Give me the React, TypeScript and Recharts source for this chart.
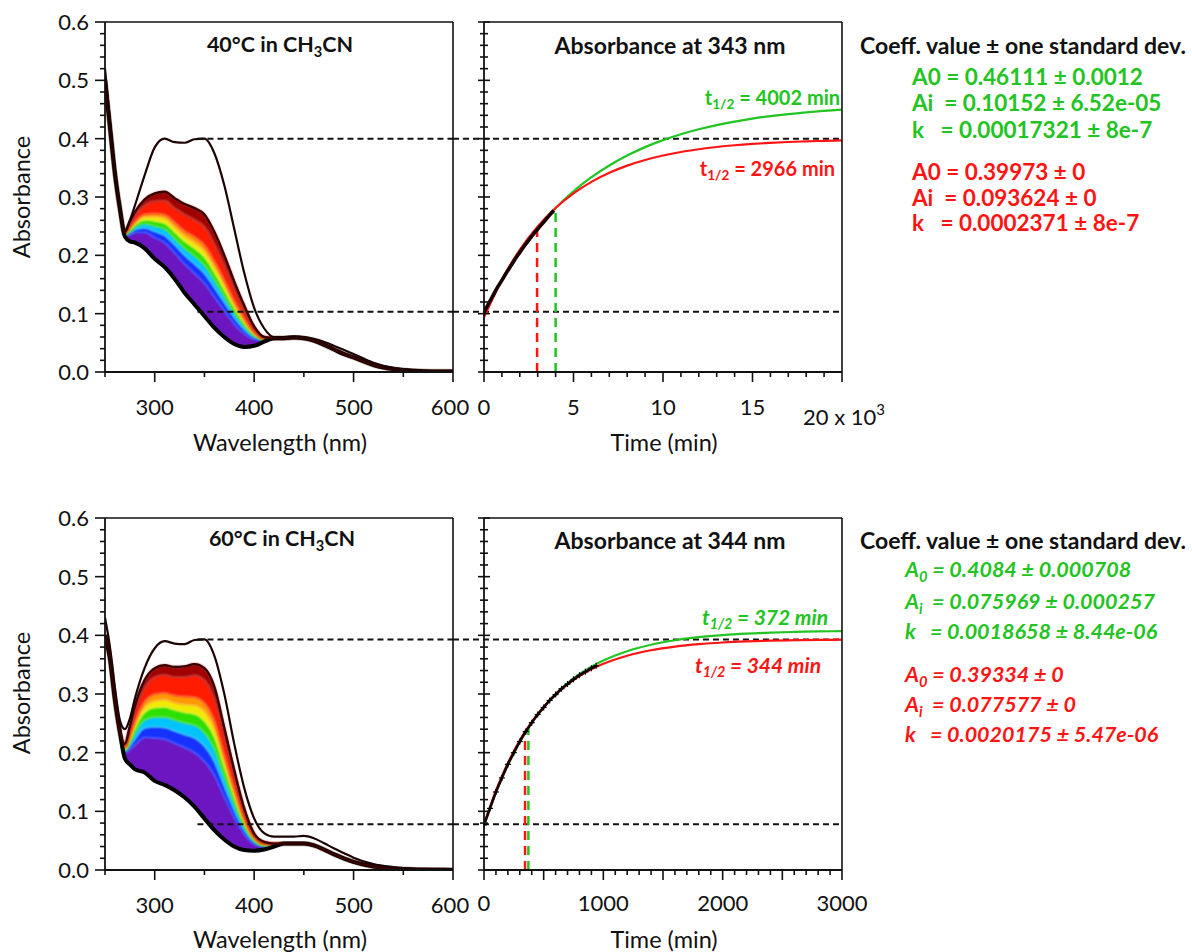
import React from 'react';
import { ComposedChart, Area, Line, XAxis, YAxis, ReferenceLine } from 'recharts';

const FONT = 'Lato, "Open Sans", sans-serif';
const GREEN = '#21c421';
const RED = '#ff1414';
const INK = '#111';

// wavelength grid (nm): steep head, the band where spectra spread, common tail
const HEAD_WL = [250, 255, 260, 265];
const BAND_WL = [270, 275, 280, 290, 300, 310, 320, 330, 340, 350, 360, 370, 380, 390, 400, 410, 420, 430];
const TAIL_WL = [440, 450, 460, 470, 480, 490, 500, 520, 540, 560, 580, 600];

// 40 °C spectra (absorbance)
const S40_HEAD = [0.5, 0.42, 0.34, 0.28];
const S40_TAIL = [0.059, 0.058, 0.054, 0.047, 0.039, 0.031, 0.025, 0.012, 0.005, 0.002, 0.001, 0.001];
const S40_BOTTOM = [0.232, 0.224, 0.222, 0.212, 0.194, 0.18, 0.16, 0.136, 0.116, 0.096, 0.076, 0.06, 0.048, 0.043, 0.045, 0.052, 0.058, 0.058];
const S40_VIOLET = [0.235, 0.235, 0.239, 0.239, 0.23, 0.221, 0.204, 0.185, 0.169, 0.152, 0.128, 0.105, 0.082, 0.066, 0.056, 0.055, 0.058, 0.058];
const S40_BLUE = [0.235, 0.238, 0.244, 0.247, 0.241, 0.234, 0.218, 0.2, 0.185, 0.169, 0.145, 0.119, 0.093, 0.073, 0.059, 0.055, 0.058, 0.058];
const S40_CYAN = [0.236, 0.241, 0.248, 0.254, 0.25, 0.245, 0.229, 0.212, 0.199, 0.183, 0.158, 0.13, 0.102, 0.079, 0.062, 0.056, 0.058, 0.058];
const S40_GREEN = [0.237, 0.244, 0.252, 0.261, 0.259, 0.255, 0.24, 0.224, 0.212, 0.197, 0.171, 0.141, 0.11, 0.084, 0.064, 0.057, 0.058, 0.058];
const S40_YELLOW = [0.237, 0.246, 0.255, 0.266, 0.266, 0.263, 0.248, 0.233, 0.222, 0.207, 0.181, 0.15, 0.116, 0.088, 0.066, 0.057, 0.058, 0.058];
const S40_ORANGE = [0.238, 0.248, 0.258, 0.271, 0.272, 0.27, 0.257, 0.242, 0.232, 0.218, 0.191, 0.158, 0.123, 0.093, 0.068, 0.058, 0.058, 0.058];
const S40_RED = [0.239, 0.254, 0.268, 0.286, 0.293, 0.294, 0.281, 0.27, 0.261, 0.249, 0.22, 0.183, 0.142, 0.105, 0.074, 0.059, 0.058, 0.058];
const S40_TOP = [0.24, 0.258, 0.274, 0.296, 0.306, 0.309, 0.298, 0.288, 0.281, 0.27, 0.24, 0.2, 0.155, 0.114, 0.078, 0.06, 0.058, 0.058];
const S40_FINAL = [0.52, 0.43, 0.345, 0.283, 0.243, 0.26, 0.285, 0.338, 0.385, 0.4, 0.394, 0.393, 0.399, 0.4, 0.375, 0.32, 0.245, 0.17, 0.11, 0.075, 0.06, 0.06, 0.061, 0.06, 0.057, 0.052, 0.045, 0.038, 0.031, 0.016, 0.007, 0.003, 0.001, 0.001];

// 60 °C spectra
const S60_HEAD = [0.4, 0.36, 0.29, 0.235];
const S60_TAIL = [0.045, 0.045, 0.042, 0.035, 0.027, 0.02, 0.014, 0.006, 0.002, 0.001, 0.0005, 0];
const S60_BOTTOM = [0.19, 0.18, 0.172, 0.166, 0.152, 0.145, 0.136, 0.124, 0.108, 0.088, 0.068, 0.052, 0.04, 0.034, 0.033, 0.035, 0.04, 0.045];
const S60_VIOLET = [0.2, 0.205, 0.213, 0.226, 0.225, 0.223, 0.216, 0.209, 0.2, 0.185, 0.161, 0.124, 0.089, 0.061, 0.044, 0.04, 0.042, 0.045];
const S60_BLUE = [0.202, 0.211, 0.223, 0.242, 0.244, 0.243, 0.237, 0.231, 0.225, 0.211, 0.185, 0.143, 0.102, 0.068, 0.047, 0.041, 0.042, 0.045];
const S60_CYAN = [0.204, 0.217, 0.233, 0.256, 0.261, 0.261, 0.256, 0.251, 0.247, 0.234, 0.207, 0.16, 0.114, 0.074, 0.05, 0.042, 0.043, 0.045];
const S60_GREEN = [0.206, 0.222, 0.242, 0.269, 0.277, 0.278, 0.273, 0.269, 0.266, 0.254, 0.227, 0.176, 0.125, 0.08, 0.052, 0.043, 0.043, 0.045];
const S60_YELLOW = [0.208, 0.226, 0.248, 0.278, 0.288, 0.29, 0.285, 0.282, 0.281, 0.27, 0.241, 0.187, 0.132, 0.084, 0.054, 0.044, 0.044, 0.045];
const S60_ORANGE = [0.209, 0.23, 0.254, 0.288, 0.3, 0.302, 0.298, 0.296, 0.295, 0.285, 0.256, 0.198, 0.14, 0.089, 0.055, 0.045, 0.044, 0.045];
const S60_RED = [0.213, 0.24, 0.27, 0.311, 0.329, 0.333, 0.329, 0.329, 0.332, 0.324, 0.292, 0.227, 0.16, 0.099, 0.06, 0.047, 0.045, 0.045];
const S60_TOP = [0.215, 0.245, 0.279, 0.324, 0.344, 0.349, 0.346, 0.347, 0.351, 0.344, 0.312, 0.242, 0.17, 0.105, 0.062, 0.048, 0.045, 0.045];
const S60_FINAL = [0.43, 0.38, 0.31, 0.255, 0.24, 0.258, 0.292, 0.345, 0.378, 0.39, 0.386, 0.385, 0.392, 0.393, 0.365, 0.3, 0.215, 0.14, 0.088, 0.063, 0.057, 0.057, 0.057, 0.058, 0.054, 0.046, 0.037, 0.029, 0.021, 0.01, 0.005, 0.002, 0.001, 0.001];

// colour of each zone, bottom (early) to top (late)
const ZONE_COLORS = ['#6c12c2', '#1533ff', '#00c4ff', '#2ee000', '#f0ea00', '#ff9800', '#ff1a00', '#a00000'];

// kinetics at 343 nm, 40 °C
const T40_FIT = [0, 1000, 2000, 3000, 4000, 5000, 6000, 7000, 8000, 9000, 10000, 11000, 12000, 13000, 14000, 15000, 16000, 17000, 18000, 19000, 20000];
const K40_GREEN = [0.1015, 0.1587, 0.2068, 0.2472, 0.2812, 0.3098, 0.3339, 0.3541, 0.3711, 0.3855, 0.3975, 0.4076, 0.4161, 0.4233, 0.4293, 0.4344, 0.4386, 0.4422, 0.4452, 0.4477, 0.4499];
const K40_RED = [0.0936, 0.1582, 0.2092, 0.2494, 0.2812, 0.3062, 0.3259, 0.3415, 0.3538, 0.3635, 0.3711, 0.3772, 0.3819, 0.3857, 0.3887, 0.391, 0.3928, 0.3943, 0.3954, 0.3963, 0.3971];
const T40_DATA = [0, 250, 500, 750, 1000, 1250, 1500, 1750, 2000, 2250, 2500, 2750, 3000, 3250, 3500, 3750, 3900];
const K40_DATA = [0.102, 0.117, 0.131, 0.145, 0.157, 0.17, 0.182, 0.194, 0.205, 0.216, 0.226, 0.236, 0.245, 0.254, 0.263, 0.272, 0.277];

// kinetics at 344 nm, 60 °C
const T60_FIT = [0, 100, 200, 300, 400, 500, 600, 700, 800, 900, 1000, 1200, 1400, 1600, 1800, 2000, 2200, 2400, 2600, 2800, 3000];
const K60_GREEN = [0.076, 0.1326, 0.1795, 0.2185, 0.2508, 0.2776, 0.2999, 0.3184, 0.3337, 0.3464, 0.357, 0.373, 0.384, 0.3916, 0.3968, 0.4004, 0.4029, 0.4046, 0.4058, 0.4066, 0.4072];
const K60_RED = [0.0776, 0.1353, 0.1824, 0.221, 0.2525, 0.2782, 0.2992, 0.3164, 0.3305, 0.342, 0.3514, 0.3653, 0.3746, 0.3808, 0.385, 0.3878, 0.3896, 0.3909, 0.3917, 0.3922, 0.3926];
const T60_DATA = [0, 50, 100, 150, 200, 250, 300, 350, 400, 450, 500, 550, 600, 650, 700, 750, 800, 850, 900, 940];
const K60_DATA = [0.077, 0.105, 0.133, 0.157, 0.18, 0.2, 0.219, 0.236, 0.251, 0.265, 0.277, 0.289, 0.299, 0.309, 0.317, 0.325, 0.332, 0.338, 0.344, 0.348];

// axis ticks
const WL_TICKS = [250, 300, 350, 400, 450, 500, 550, 600];
const ABS_TICKS = Array.from({ length: 31 }, (_, i) => +(i * 0.02).toFixed(2));
const T40_TICKS = Array.from({ length: 21 }, (_, i) => i * 1000);
const T60_TICKS = Array.from({ length: 31 }, (_, i) => i * 100);

const TICK_FONT = 22;

function spectraRows(head: number[], edges: number[][], tail: number[], final: number[]) {
  const all = [...HEAD_WL, ...BAND_WL, ...TAIL_WL];
  const nh = HEAD_WL.length;
  const nb = BAND_WL.length;
  return all.map((wl, i) => {
    const row: any = { wl, final: final[i] };
    edges.forEach((edge, k) => {
      row['b' + k] = i < nh ? head[i] : i < nh + nb ? edge[i - nh] : tail[i - nh - nb];
    });
    return row;
  });
}

function kineticRows(fitT: number[], green: number[], red: number[], dataT: number[], data: number[]) {
  const map = new Map<number, any>();
  fitT.forEach((t, i) => map.set(t, { t, green: green[i], red: red[i] }));
  dataT.forEach((t, i) => {
    const r = map.get(t) || { t };
    r.data = data[i];
    map.set(t, r);
  });
  return [...map.values()].sort((a, b) => a.t - b.t);
}

const rows40 = spectraRows(S40_HEAD, [S40_BOTTOM, S40_VIOLET, S40_BLUE, S40_CYAN, S40_GREEN, S40_YELLOW, S40_ORANGE, S40_RED, S40_TOP], S40_TAIL, S40_FINAL);
const rows60 = spectraRows(S60_HEAD, [S60_BOTTOM, S60_VIOLET, S60_BLUE, S60_CYAN, S60_GREEN, S60_YELLOW, S60_ORANGE, S60_RED, S60_TOP], S60_TAIL, S60_FINAL);
const kin40 = kineticRows(T40_FIT, K40_GREEN, K40_RED, T40_DATA, K40_DATA);
const kin60 = kineticRows(T60_FIT, K60_GREEN, K60_RED, T60_DATA, K60_DATA);

const isMajorAbs = (v: number) => Math.abs(v * 10 - Math.round(v * 10)) < 1e-6;

function AbsTick({ x, y, payload }: any) {
  const major = isMajorAbs(payload.value);
  return (
    <g>
      <line x1={x - (major ? 10 : 5)} x2={x} y1={y} y2={y} stroke={INK} strokeWidth={1.6} />
      {major && (
        <text x={x - 16} y={y} dy={8} textAnchor="end" fontSize={TICK_FONT} fontFamily={FONT} fill={INK}>
          {payload.value.toFixed(1)}
        </text>
      )}
    </g>
  );
}

function CrossTick({ x, y, payload }: any) {
  const len = isMajorAbs(payload.value) ? 6 : 4;
  return <line x1={x - len} x2={x + len} y1={y} y2={y} stroke={INK} strokeWidth={1.6} />;
}

function WlTick({ x, y, payload }: any) {
  const v = payload.value;
  const major = v % 100 === 0;
  return (
    <g>
      <line x1={x} x2={x} y1={y} y2={y + (major ? 10 : 5)} stroke={INK} strokeWidth={1.6} />
      {major && (
        <text x={v === 600 ? x - 3 : x} y={y + 43} textAnchor="middle" fontSize={TICK_FONT} fontFamily={FONT} fill={INK}>
          {v}
        </text>
      )}
    </g>
  );
}

function Time40Tick({ x, y, payload }: any) {
  const v = payload.value;
  const major = v % 5000 === 0;
  return (
    <g>
      <line x1={x} x2={x} y1={y} y2={y + (major ? 10 : 5)} stroke={INK} strokeWidth={1.6} />
      {major && v < 20000 && (
        <text x={x} y={y + 43} textAnchor="middle" fontSize={TICK_FONT} fontFamily={FONT} fill={INK}>
          {v / 1000}
        </text>
      )}
      {v === 20000 && (
        <text x={x - 39} y={y + 53} textAnchor="start" fontSize={TICK_FONT} fontFamily={FONT} fill={INK}>
          20 x 10<tspan dy={-10} fontSize={15}>3</tspan>
        </text>
      )}
    </g>
  );
}

function Time60Tick({ x, y, payload }: any) {
  const v = payload.value;
  const major = v % 500 === 0;
  return (
    <g>
      <line x1={x} x2={x} y1={y} y2={y + (major ? 10 : 5)} stroke={INK} strokeWidth={1.6} />
      {v % 1000 === 0 && (
        <text x={x} y={y + 41} textAnchor="middle" fontSize={TICK_FONT} fontFamily={FONT} fill={INK}>
          {v}
        </text>
      )}
    </g>
  );
}

// small "+" markers on the measured 60 °C trace
function CrossDot({ cx, cy }: any) {
  if (cx == null || cy == null) return null;
  return (
    <g stroke="#000" strokeWidth={1.2}>
      <line x1={cx - 3} x2={cx + 3} y1={cy} y2={cy} />
      <line x1={cx} x2={cx} y1={cy - 3} y2={cy + 3} />
    </g>
  );
}

const dashed = { stroke: INK, strokeWidth: 2, strokeDasharray: '6 4' };

function SpectraPanel({ id, top, height, plotH, rows, levels }: any) {
  const zoneKeys = ZONE_COLORS.map((_, k) => ['b' + k, 'b' + (k + 1)]);
  const blurId = `soften-${id}`;
  return (
    <div style={{ position: 'absolute', left: 0, top }}>
      <ComposedChart width={480} height={height} data={rows} margin={{ top: 22, right: 27, bottom: 0, left: 0 }}>
        <defs>
          <filter id={blurId} x="-5%" y="-5%" width="110%" height="110%">
            <feGaussianBlur stdDeviation="1.1" />
          </filter>
        </defs>
        <XAxis
          dataKey="wl"
          type="number"
          domain={[250, 600]}
          ticks={WL_TICKS}
          interval={0}
          allowDataOverflow
          height={height - 22 - plotH}
          tickSize={0}
          tickMargin={0}
          tickLine={false}
          axisLine={{ stroke: INK, strokeWidth: 1.8 }}
          tick={(p: any) => <WlTick {...p} />}
        />
        <YAxis
          type="number"
          domain={[0, 0.6]}
          ticks={ABS_TICKS}
          interval={0}
          allowDataOverflow
          width={105}
          tickSize={0}
          tickMargin={0}
          tickLine={false}
          axisLine={{ stroke: INK, strokeWidth: 1.8 }}
          tick={(p: any) => <AbsTick {...p} />}
        />
        {zoneKeys.map(([lo, hi], k) => (
          <Area
            key={lo}
            type="monotone"
            dataKey={(d: any) => [d[lo], d[hi]]}
            fill={ZONE_COLORS[k]}
            fillOpacity={1}
            stroke={ZONE_COLORS[k]}
            strokeWidth={0.8}
            filter={`url(#${blurId})`}
            isAnimationActive={false}
          />
        ))}
        <Line type="monotone" dataKey="b0" stroke="#000" strokeWidth={4} dot={false} isAnimationActive={false} />
        <Line type="monotone" dataKey="b8" stroke="#3a0000" strokeWidth={2.4} dot={false} isAnimationActive={false} />
        <Line type="monotone" dataKey="final" stroke="#1c0404" strokeWidth={2.2} dot={false} isAnimationActive={false} />
        {levels.map((lv: number) => (
          <ReferenceLine key={lv} segment={[{ x: 343, y: lv }, { x: 600, y: lv }]} {...dashed} />
        ))}
        <ReferenceLine y={0.6} stroke={INK} strokeWidth={1.6} />
        <ReferenceLine x={600} stroke={INK} strokeWidth={1.6} />
      </ComposedChart>
    </div>
  );
}

function KineticPanel({ top, height, plotH, rows, tMax, ticks, tickComp, levels, gapStart, halfLives, crossDots }: any) {
  const TickComp = tickComp;
  return (
    <div style={{ position: 'absolute', left: 453, top }}>
      <ComposedChart width={440} height={height} data={rows} margin={{ top: 22, right: 51, bottom: 0, left: 0 }}>
        <XAxis
          dataKey="t"
          type="number"
          domain={[0, tMax]}
          ticks={ticks}
          interval={0}
          allowDataOverflow
          height={height - 22 - plotH}
          tickSize={0}
          tickMargin={0}
          tickLine={false}
          axisLine={{ stroke: INK, strokeWidth: 1.8 }}
          tick={(p: any) => <TickComp {...p} />}
        />
        <YAxis
          type="number"
          domain={[0, 0.6]}
          ticks={ABS_TICKS}
          interval={0}
          allowDataOverflow
          width={31}
          tickSize={0}
          tickMargin={0}
          tickLine={false}
          axisLine={{ stroke: INK, strokeWidth: 1.8 }}
          tick={(p: any) => <CrossTick {...p} />}
        />
        {levels.map((lv: number) => (
          <ReferenceLine key={lv} segment={[{ x: gapStart, y: lv }, { x: tMax, y: lv }]} ifOverflow="visible" {...dashed} />
        ))}
        {halfLives.map((h: any) => (
          <ReferenceLine
            key={h.t}
            segment={[{ x: h.t, y: 0 }, { x: h.t, y: h.a }]}
            stroke={h.color}
            strokeWidth={2.5}
            strokeDasharray="9 6"
          />
        ))}
        <Line type="monotone" dataKey="green" stroke={GREEN} strokeWidth={2.2} dot={false} connectNulls isAnimationActive={false} />
        <Line type="monotone" dataKey="red" stroke={RED} strokeWidth={2.2} dot={false} connectNulls isAnimationActive={false} />
        <Line
          type="monotone"
          dataKey="data"
          stroke="#160000"
          strokeWidth={crossDots ? 2.6 : 3.6}
          dot={crossDots ? (p: any) => <CrossDot key={p.index} {...p} /> : false}
          connectNulls
          isAnimationActive={false}
        />
        <ReferenceLine y={0.6} stroke={INK} strokeWidth={1.6} />
        <ReferenceLine x={tMax} stroke={INK} strokeWidth={1.6} />
      </ComposedChart>
    </div>
  );
}

function Note({ x, y, align = 'center', style, children }: any) {
  const tx = align === 'center' ? '-50%' : align === 'right' ? '-100%' : '0';
  return (
    <div
      style={{
        position: 'absolute',
        left: x,
        top: y,
        transform: `translate(${tx},-50%)`,
        whiteSpace: 'pre',
        lineHeight: 1,
        ...style,
      }}
    >
      {children}
    </div>
  );
}

const sub = { fontSize: '0.68em', verticalAlign: '-0.3em', lineHeight: 0 };

export default function App() {
  const title = { fontWeight: 700, fontSize: 23 };
  const coeffTop = { fontWeight: 700, fontSize: 22.5 };
  const coeffBot = { fontWeight: 700, fontSize: 21.5, fontStyle: 'italic' };
  const axisTitle = { fontSize: 23.5 };
  const rot = { ...axisTitle, transform: 'translate(-50%,-50%) rotate(-90deg)' };
  return (
    <div
      style={{
        position: 'absolute',
        left: 0,
        top: 0,
        width: 1192,
        height: 952,
        background: '#fff',
        fontFamily: FONT,
        color: INK,
        overflow: 'hidden',
      }}
    >
      <SpectraPanel id="s40" top={0} height={440} plotH={350} rows={rows40} levels={[0.4, 0.1034]} />
      <KineticPanel
        top={0}
        height={440}
        plotH={350}
        rows={kin40}
        tMax={20000}
        ticks={T40_TICKS}
        tickComp={Time40Tick}
        levels={[0.4, 0.1034]}
        gapStart={-1732}
        halfLives={[
          { t: 2966, a: 0.248, color: RED },
          { t: 4002, a: 0.281, color: GREEN },
        ]}
      />
      <SpectraPanel id="s60" top={496} height={440} plotH={352} rows={rows60} levels={[0.393, 0.078]} />
      <KineticPanel
        top={496}
        height={440}
        plotH={352}
        rows={kin60}
        tMax={3000}
        ticks={T60_TICKS}
        tickComp={Time60Tick}
        levels={[0.393, 0.078]}
        gapStart={-260}
        crossDots
        halfLives={[
          { t: 344, a: 0.236, color: RED },
          { t: 372, a: 0.242, color: GREEN },
        ]}
      />

      {/* titles and axis labels */}
      <Note x={280} y={45} style={{ ...title, fontSize: 21.5 }}>
        40°C in CH<sub style={sub}>3</sub>CN
      </Note>
      <Note x={670} y={45} style={title}>Absorbance at 343 nm</Note>
      <Note x={282} y={539} style={{ ...title, fontSize: 21.5 }}>
        60°C in CH<sub style={sub}>3</sub>CN
      </Note>
      <Note x={670} y={540} style={title}>Absorbance at 344 nm</Note>
      <Note x={22} y={197} style={rot}>Absorbance</Note>
      <Note x={22} y={693} style={rot}>Absorbance</Note>
      <Note x={280} y={443} style={axisTitle}>Wavelength (nm)</Note>
      <Note x={664} y={443} style={axisTitle}>Time (min)</Note>
      <Note x={280} y={940} style={axisTitle}>Wavelength (nm)</Note>
      <Note x={664} y={940} style={axisTitle}>Time (min)</Note>

      {/* half-life labels */}
      <Note x={840} y={97} align="right" style={{ fontWeight: 700, fontSize: 20, color: GREEN }}>
        t<sub style={sub}>1/2</sub> = 4002 min
      </Note>
      <Note x={835} y={168} align="right" style={{ fontWeight: 700, fontSize: 20, color: RED }}>
        t<sub style={sub}>1/2</sub> = 2966 min
      </Note>
      <Note x={828} y={616} align="right" style={{ ...coeffBot, fontSize: 21, color: GREEN }}>
        t<sub style={sub}>1/2</sub> = 372 min
      </Note>
      <Note x={821} y={664} align="right" style={{ ...coeffBot, fontSize: 21, color: RED }}>
        t<sub style={sub}>1/2</sub> = 344 min
      </Note>

      {/* fit coefficients, 40 °C */}
      <Note x={860} y={45} align="left" style={title}>Coeff. value ± one standard dev.</Note>
      <Note x={912} y={77} align="left" style={{ ...coeffTop, color: GREEN }}>A0 = 0.46111 ± 0.0012</Note>
      <Note x={912} y={103} align="left" style={{ ...coeffTop, color: GREEN }}>Ai  = 0.10152 ± 6.52e-05</Note>
      <Note x={912} y={130} align="left" style={{ ...coeffTop, color: GREEN }}>k   = 0.00017321 ± 8e-7</Note>
      <Note x={912} y={172} align="left" style={{ ...coeffTop, color: RED }}>A0 = 0.39973 ± 0</Note>
      <Note x={912} y={198} align="left" style={{ ...coeffTop, color: RED }}>Ai  = 0.093624 ± 0</Note>
      <Note x={912} y={223} align="left" style={{ ...coeffTop, color: RED }}>k   = 0.0002371 ± 8e-7</Note>

      {/* fit coefficients, 60 °C */}
      <Note x={860} y={540} align="left" style={title}>Coeff. value ± one standard dev.</Note>
      <Note x={905} y={570} align="left" style={{ ...coeffBot, color: GREEN }}>
        A<sub style={sub}>0</sub> = 0.4084 ± 0.000708
      </Note>
      <Note x={905} y={602} align="left" style={{ ...coeffBot, color: GREEN }}>
        A<sub style={sub}>i</sub>  = 0.075969 ± 0.000257
      </Note>
      <Note x={905} y={632} align="left" style={{ ...coeffBot, color: GREEN }}>
        k   = 0.0018658 ± 8.44e-06
      </Note>
      <Note x={905} y={675} align="left" style={{ ...coeffBot, color: RED }}>
        A<sub style={sub}>0</sub> = 0.39334 ± 0
      </Note>
      <Note x={905} y={705} align="left" style={{ ...coeffBot, color: RED }}>
        A<sub style={sub}>i</sub>  = 0.077577 ± 0
      </Note>
      <Note x={905} y={735} align="left" style={{ ...coeffBot, color: RED }}>
        k   = 0.0020175 ± 5.47e-06
      </Note>
    </div>
  );
}
